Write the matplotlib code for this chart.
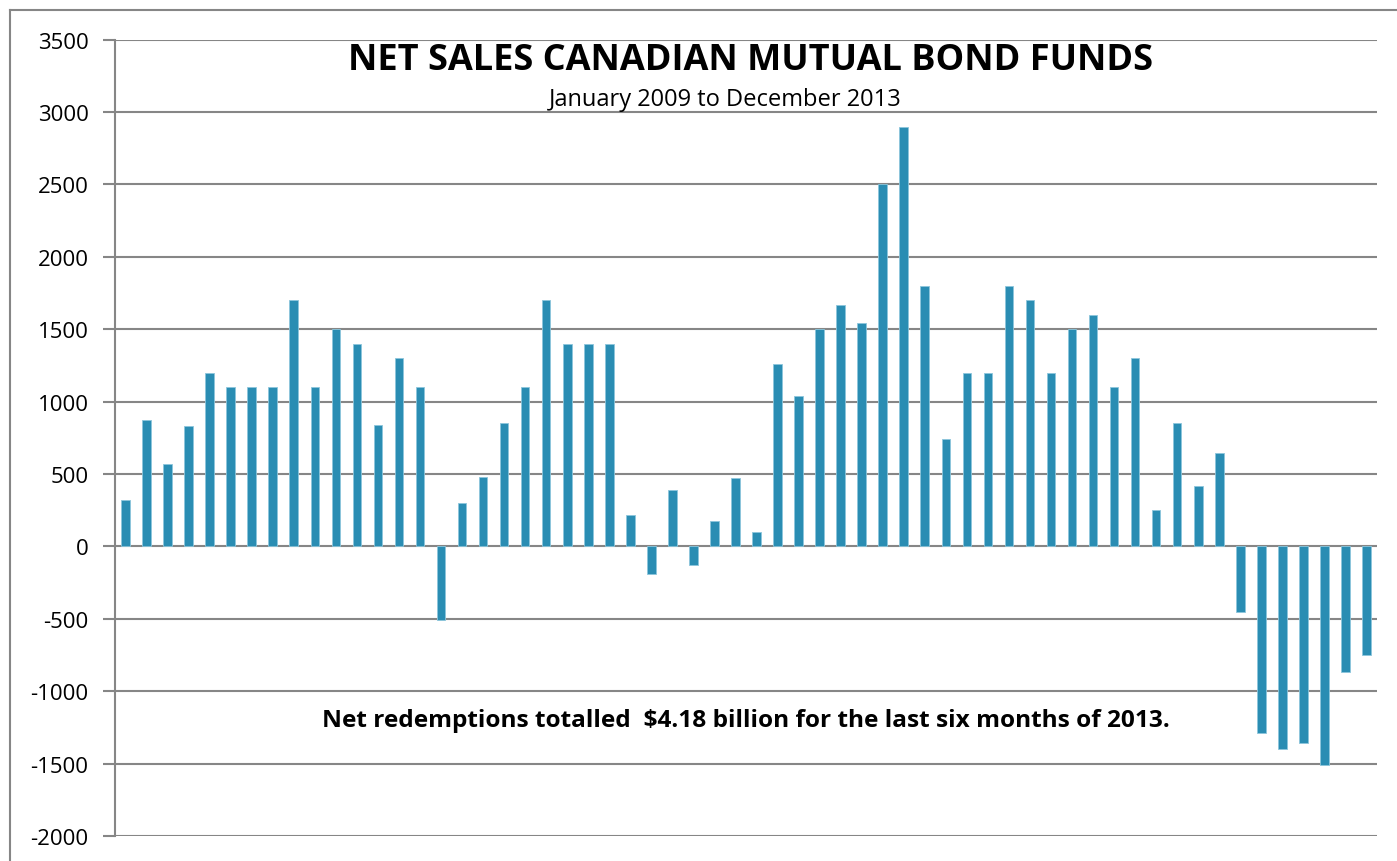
import pandas as pd
import matplotlib
matplotlib.use("Agg")
import matplotlib.pyplot as plt
from matplotlib.lines import Line2D

# monthly net sales, Jan 2009 - Dec 2013 ($ millions)
months = pd.date_range("2009-01", periods=60, freq="MS").strftime("%b %Y").tolist()
net_sales = [
    320, 870, 570, 830, 1200, 1100, 1100, 1100, 1700, 1100, 1500, 1400,
    840, 1300, 1100, -510, 300, 480, 850, 1100, 1700, 1400, 1400, 1400,
    215, -190, 390, -125, 175, 470, 100, 1260, 1040, 1500, 1670, 1540,
    2500, 2900, 1800, 740, 1200, 1200, 1800, 1700, 1200, 1500, 1600, 1100,
    1300, 250, 850, 420, 645, -455, -1290, -1400, -1360, -1510, -870, -750,
]
y_ticks = [-2000, -1500, -1000, -500, 0, 500, 1000, 1500, 2000, 2500, 3000, 3500]

title = "NET SALES CANADIAN MUTUAL BOND FUNDS"
subtitle = "January 2009 to December 2013"
note = "Net redemptions totalled  $4.18 billion for the last six months of 2013."

plt.rcParams["font.family"] = ["Open Sans", "DejaVu Sans"]
grey = "#868686"
bar_color = "#2A8DB3"

fig = plt.figure(figsize=(13.97, 8.62), dpi=100)
ax = fig.add_axes([115 / 1397, 25 / 862, 1262 / 1397, 796.3 / 862])

x = list(range(len(months)))
ax.bar(x, net_sales, width=0.41, color=bar_color, edgecolor="#8cc6dc", linewidth=0.6, zorder=3)

ax.set_xlim(-0.5, len(months) - 0.5)
ax.set_ylim(-2000, 3500)
ax.set_yticks(y_ticks)
ax.set_yticklabels([str(v) for v in y_ticks], fontsize=16)
ax.set_xticks([])
ax.yaxis.grid(True, color=grey, linewidth=1.5, zorder=0)
ax.tick_params(axis="y", length=9, width=1.5, color=grey, pad=10)

for side in ["top", "right", "bottom"]:
    ax.spines[side].set_visible(False)
ax.spines["left"].set_color(grey)
ax.spines["left"].set_linewidth(1.5)

# titles and note, positioned in figure pixels
fig.text(751 / 1397, 1 - 61 / 862, title, ha="center", va="center",
         fontsize=26, fontweight="bold")
fig.text(725 / 1397, 1 - 100 / 862, subtitle, ha="center", va="center", fontsize=17)
fig.text(746 / 1397, 1 - 721 / 862, note, ha="center", va="center",
         fontsize=17.6, fontweight="bold")

# outer chart border (cut off at right and bottom)
fig.add_artist(Line2D([10 / 1397, 10 / 1397], [0, 1 - 11 / 862], color=grey, linewidth=1.5))
fig.add_artist(Line2D([10 / 1397, 1], [1 - 11 / 862, 1 - 11 / 862], color=grey, linewidth=1.5))

fig.savefig("out.png", dpi=100)
